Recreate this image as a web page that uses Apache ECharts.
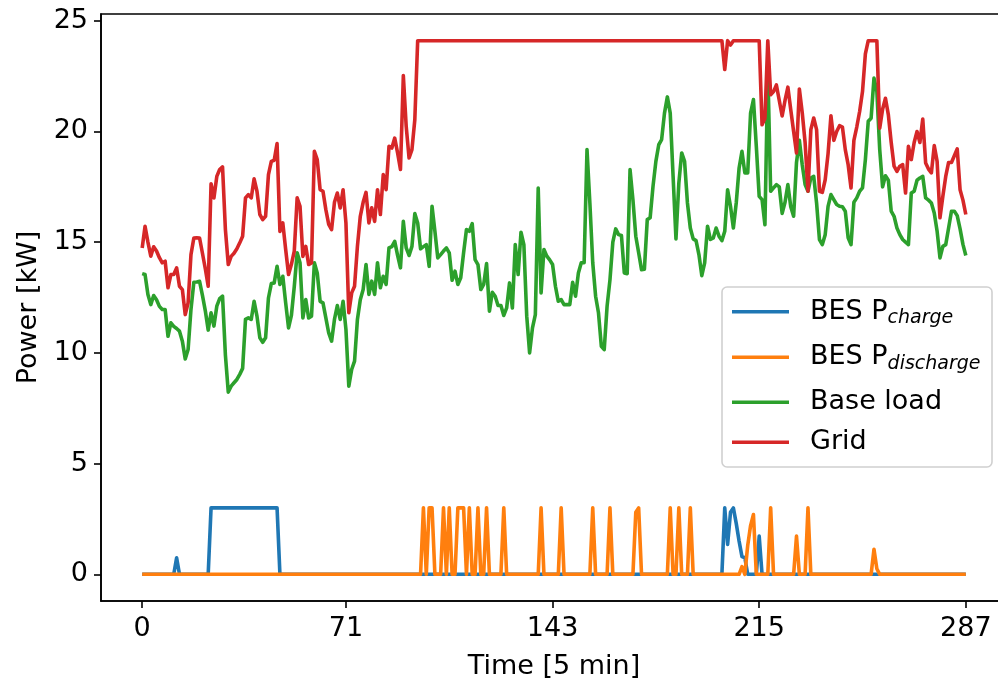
<!DOCTYPE html>
<html>
<head>
<meta charset="utf-8">
<script src="https://cdn.jsdelivr.net/npm/echarts@6/dist/echarts.min.js"></script>
<style>
html,body{margin:0;padding:0;background:#fff;}
#chart{width:998px;height:684px;}
</style>
</head>
<body>
<div id="chart"></div>
<script>
// ---- Data (time step index = array position, 5-minute steps 0..287) ----
const xTicks = [0, 71, 143, 215, 287];
const yTicks = [0, 5, 10, 15, 20, 25];

const seriesNames = ['BES P charge', 'BES P discharge', 'Base load', 'Grid'];

const besCharge = [
  0,0,0,0,0,0,0,0,0,0,0,0,0.75,0,0,0,0,0,0,0,0,0,0,0,
  3,3,3,3,3,3,3,3,3,3,3,3,3,3,3,3,3,3,3,3,3,3,3,3,
  0,0,0,0,0,0,0,0,0,0,0,0,0,0,0,0,0,0,0,0,0,0,0,0,
  0,0,0,0,0,0,0,0,0,0,0,0,0,0,0,0,0,0,0,0,0,0,0,0,
  0,0,0,0,0,0,0,0,0,0,0,0,0,0,0,0,0,0,0,0,0,0,0,0,
  0,0,0,0,0,0,0,0,0,0,0,0,0,0,0,0,0,0,0,0,0,0,0,0,
  0,0,0,0,0,0,0,0,0,0,0,0,0,0,0,0,0,0,0,0,0,0,0,0,
  0,0,0,0,0,0,0,0,0,0,0,0,0,0,0,0,0,0,0,0,0,0,0,0,
  0,0,0,0,0,0,0,0,0,0,0,3,1.35,2.8,3,2.3,1.5,0.8,0.75,0,0,0,0,1.73,
  0,0,0,0,0,0,0,0,0,0,0,0,0,0,0,0,0,0,0,0,0,0,0,0,
  0,0,0,0,0,0,0,0,0,0,0,0,0,0,0,0,0,0,0,0,0,0,0,0,
  0,0,0,0,0,0,0,0,0,0,0,0,0,0,0,0,0,0,0,0,0,0,0,0
];

const besDischarge = [
  0,0,0,0,0,0,0,0,0,0,0,0,0,0,0,0,0,0,0,0,0,0,0,0,
  0,0,0,0,0,0,0,0,0,0,0,0,0,0,0,0,0,0,0,0,0,0,0,0,
  0,0,0,0,0,0,0,0,0,0,0,0,0,0,0,0,0,0,0,0,0,0,0,0,
  0,0,0,0,0,0,0,0,0,0,0,0,0,0,0,0,0,0,0,0,0,0,0,0,
  0,0,3,0,3,3,0,0,0,3,0,3,0,0,3,3,3,0,3,0,0,3,0,0,
  3,0,0,0,0,0,3,0,0,0,0,0,0,0,0,0,0,0,0,3,0,0,0,0,
  0,0,3,0,0,0,0,0,0,0,0,0,0,3,0,0,0,0,0,3,0,0,0,0,
  0,0,0,0,2.8,3,0,0,0,0,0,0,0,0,0,0,3,0,0,3,0,0,0,3,
  0,0,0,0,0,0,0,0,0,0,0,0,0,0,0,0,0,0.35,0,1.3,2.2,2.7,0,0,
  0,0,0,3,0,0,0,0,0,0,0,0,1.73,0,0,0,3,0,0,0,0,0,0,0,
  0,0,0,0,0,0,0,0,0,0,0,0,0,0,0,1.13,0.25,0,0,0,0,0,0,0,
  0,0,0,0,0,0,0,0,0,0,0,0,0,0,0,0,0,0,0,0,0,0,0,0
];

const baseLoad = [
  13.58,13.54,12.64,12.18,12.59,12.4,12.1,11.96,11.96,10.75,11.36,11.2,11.1,10.98,10.53,9.73,10.15,11.96,13.19,13.2,13.23,12.6,11.9,11.03,
  11.81,11.21,12.11,12.45,12.56,9.9,8.23,8.5,8.65,8.8,9.03,9.3,11.51,11.58,11.51,12.33,11.66,10.68,10.48,10.68,12.48,13.13,13.16,13.91,
  13.09,13.46,12.26,11.13,11.7,13.0,14.52,14.07,11.58,12.41,11.58,11.66,14.07,13.61,12.33,12.26,11.58,10.9,10.53,11.51,12.14,11.51,12.33,11.06,
  8.5,9.25,9.63,11.51,12.4,12.86,13.99,12.64,13.24,12.64,14.07,12.94,13.46,13.09,14.74,14.8,15.04,14.4,13.84,15.94,14.74,14.4,14.81,16.29,
  15.87,14.7,14.8,14.89,13.91,16.62,15.49,14.29,14.44,14.6,14.74,14.52,13.28,13.69,13.09,13.39,14.52,15.57,15.49,15.84,14.21,13.99,12.86,13.09,
  14.03,11.88,12.74,12.56,12.14,12.14,11.69,12.03,13.16,12.03,14.89,13.54,15.45,14.89,11.66,10.0,11.13,11.73,17.45,12.71,14.67,14.37,14.2,13.99,
  13.01,12.33,12.41,12.18,12.18,12.18,13.19,12.56,13.61,14.07,14.07,19.18,16.77,14.07,12.56,11.81,10.3,10.15,12.11,13.3,15.0,15.6,15.34,15.3,
  13.61,13.58,18.28,16.92,15.27,14.52,13.76,13.78,16.02,16.1,17.52,18.65,19.4,19.63,20.83,21.56,20.83,17.97,15.15,17.67,19.03,18.65,16.77,15.64,
  15.15,15.07,14.44,13.49,14.07,15.72,15.12,15.19,15.64,15.27,15.07,15.49,17.37,16.62,15.64,16.77,18.35,19.1,18.13,18.13,20.83,21.44,19.33,17.07,
  16.92,15.79,22.8,17.3,17.45,17.6,17.5,16.3,16.8,17.6,16.6,16.17,18.6,19.6,18.5,17.6,17.3,17.9,17.97,16.77,15.12,14.89,15.34,16.62,
  17.15,16.92,16.7,16.62,16.6,16.4,15.2,14.89,16.8,17.0,17.3,17.45,18.73,20.46,20.6,22.41,21.81,19.18,17.5,18.0,17.8,16.4,16.17,15.64,
  15.34,15.12,15.0,14.89,17.22,17.3,17.8,17.9,17.97,17.0,16.9,16.77,16.32,15.49,14.29,14.81,14.89,15.64,16.4,16.4,16.2,15.6,14.9,14.4
];

const gridPower = [
  14.74,15.72,15.0,14.37,14.79,14.6,14.3,14.07,14.14,12.94,13.54,13.54,13.84,13.01,12.86,11.73,12.26,14.44,15.19,15.2,15.19,14.5,13.8,13.01,
  17.64,17.0,17.97,18.28,18.4,15.57,13.99,14.36,14.5,14.7,14.97,15.27,17.0,17.15,17.0,17.86,17.3,16.25,16.02,16.17,18.05,18.65,18.7,19.45,
  15.49,15.87,14.67,13.54,14.0,14.6,17.0,16.62,14.36,14.81,13.99,14.06,19.1,18.73,17.37,17.3,16.47,15.8,15.57,16.8,17.22,16.55,17.37,15.87,
  11.81,12.71,13.01,14.81,16.17,16.8,17.25,15.87,16.55,15.94,17.37,16.25,18.05,17.37,19.33,19.25,19.7,19.03,18.28,22.52,20.23,18.8,19.18,20.53,
  24.1,24.1,24.1,24.1,24.1,24.1,24.1,24.1,24.1,24.1,24.1,24.1,24.1,24.1,24.1,24.1,24.1,24.1,24.1,24.1,24.1,24.1,24.1,24.1,
  24.1,24.1,24.1,24.1,24.1,24.1,24.1,24.1,24.1,24.1,24.1,24.1,24.1,24.1,24.1,24.1,24.1,24.1,24.1,24.1,24.1,24.1,24.1,24.1,
  24.1,24.1,24.1,24.1,24.1,24.1,24.1,24.1,24.1,24.1,24.1,24.1,24.1,24.1,24.1,24.1,24.1,24.1,24.1,24.1,24.1,24.1,24.1,24.1,
  24.1,24.1,24.1,24.1,24.1,24.1,24.1,24.1,24.1,24.1,24.1,24.1,24.1,24.1,24.1,24.1,24.1,24.1,24.1,24.1,24.1,24.1,24.1,24.1,
  24.1,24.1,24.1,24.1,24.1,24.1,24.1,24.1,24.1,24.1,24.1,22.8,24.1,23.9,24.1,24.1,24.1,24.1,24.1,24.1,24.1,24.1,24.1,24.1,
  20.3,20.6,24.1,21.66,21.8,22.1,21.4,20.7,21.4,22.0,20.98,20.0,19.03,21.92,20.85,19.5,17.3,20.08,20.61,20.08,17.3,17.25,17.82,19.0,
  20.71,19.6,20.0,20.26,20.2,19.18,18.5,17.45,19.6,20.2,20.9,21.8,23.5,24.1,24.1,24.1,24.1,20.15,21.0,21.5,20.76,19.5,18.43,18.2,
  18.43,18.5,17.22,19.33,18.73,19.5,20.0,19.5,20.56,18.58,18.3,18.13,19.36,18.65,16.1,17.07,17.97,18.6,18.6,18.9,19.21,17.37,16.9,16.25
];

// ---- Chart ----
const FONT = 'DejaVu Sans';
const FS = 27;
const colors = ['#1f77b4', '#ff7f0e', '#2ca02c', '#d62728'];
const toPairs = arr => arr.map((v, i) => [i, v]);
const valuesList = [besCharge, besDischarge, baseLoad, gridPower];

const legendLabels = {
  'BES P charge': '{n|BES P}{s|charge}',
  'BES P discharge': '{n|BES P}{s|discharge}',
  'Base load': '{n|Base load}',
  'Grid': '{n|Grid}'
};
const LH = 50;
const legendCenters = [311.7, 357.3, 402.3, 442.3];

const chart = echarts.init(document.getElementById('chart'), null, {renderer: 'canvas'});
chart.setOption({
  animation: false,
  backgroundColor: '#ffffff',
  textStyle: {fontFamily: FONT},
  grid: {
    left: 101, top: 14, width: 906, height: 587,
    outerBoundsMode: 'none',
    containLabel: false,
    show: true, borderColor: '#000', borderWidth: 1.6, backgroundColor: 'transparent'
  },
  xAxis: {
    type: 'value',
    min: -14.35, max: 301.35,
    name: 'Time [5 min]',
    nameLocation: 'middle',
    nameGap: 52,
    nameTextStyle: {fontSize: FS, color: '#000', fontFamily: FONT},
    axisLine: {show: true, onZero: false, lineStyle: {color: '#000', width: 1.6}},
    axisTick: {show: true, length: 7, lineStyle: {color: '#000', width: 1.6}, customValues: xTicks},
    axisLabel: {fontSize: FS, color: '#000', margin: 14, fontFamily: FONT, customValues: xTicks},
    splitLine: {show: false}
  },
  yAxis: {
    type: 'value',
    min: -1.205, max: 25.305,
    name: 'Power [kW]',
    nameLocation: 'middle',
    nameGap: 59,
    nameTextStyle: {fontSize: FS, color: '#000', fontFamily: FONT},
    axisLine: {show: true, onZero: false, lineStyle: {color: '#000', width: 1.6}},
    axisTick: {show: true, length: 7, lineStyle: {color: '#000', width: 1.6}, customValues: yTicks},
    axisLabel: {fontSize: FS, color: '#000', margin: 13, fontFamily: FONT, customValues: yTicks},
    splitLine: {show: false}
  },
  legend: seriesNames.map((name, k) => ({
    data: [name],
    left: 732,
    top: legendCenters[k] - LH / 2,
    padding: 0,
    icon: 'rect',
    itemWidth: 57,
    itemHeight: 3.6,
    itemGap: 0,
    z: 10,
    formatter: n => legendLabels[n],
    textStyle: {
      color: '#000',
      padding: [0, 0, 0, 16],
      lineHeight: LH,
      rich: {
        n: {fontSize: FS, fontFamily: FONT, color: '#000', lineHeight: LH},
        s: {fontSize: 19, fontFamily: FONT, fontStyle: 'italic', color: '#000', lineHeight: LH, padding: [13, 0, 0, 0]}
      }
    }
  })),
  graphic: [{
    type: 'rect',
    z: 5,
    shape: {x: 722, y: 287, width: 270, height: 180, r: 5},
    style: {fill: 'rgba(255,255,255,0.8)', stroke: '#d0d0d0', lineWidth: 1.6}
  }],
  series: seriesNames.map((name, k) => ({
    name: name,
    type: 'line',
    data: toPairs(valuesList[k]),
    symbol: 'none',
    showSymbol: false,
    color: colors[k],
    lineStyle: {color: colors[k], width: 3.6, join: 'round'},
    z: 2 + k * 0.01
  }))
});
</script>
</body>
</html>
